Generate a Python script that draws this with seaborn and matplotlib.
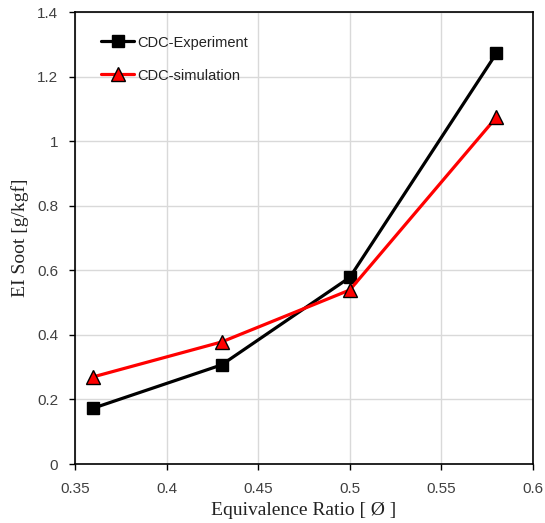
import matplotlib
matplotlib.use("Agg")
import matplotlib.pyplot as plt
import seaborn as sns
import pandas as pd

phi = [0.36, 0.43, 0.50, 0.58]
experiment = [0.173, 0.307, 0.578, 1.272]
simulation = [0.270, 0.378, 0.539, 1.074]
series_names = ["CDC-Experiment", "CDC-simulation"]
x_ticks = [0.35, 0.4, 0.45, 0.5, 0.55, 0.6]
x_tick_labels = ["0.35", "0.4", "0.45", "0.5", "0.55", "0.6"]
y_ticks = [0, 0.2, 0.4, 0.6, 0.8, 1.0, 1.2, 1.4]
y_tick_labels = ["0", "0.2", "0.4", "0.6", "0.8", "1", "1.2", "1.4"]

df_exp = pd.DataFrame({"phi": phi, "ei": experiment, "series": series_names[0]})
df_sim = pd.DataFrame({"phi": phi, "ei": simulation, "series": series_names[1]})

sns.set_theme(style="white")
plt.rcParams['font.family'] = ['Liberation Sans', 'DejaVu Sans']

fig = plt.figure(figsize=(5.45, 5.23), dpi=100)
ax = fig.add_axes([0.1376, 0.1128, 0.8404, 0.8642])

sns.lineplot(data=df_exp, x="phi", y="ei", label=series_names[0], color="black",
             marker="s", linewidth=2.3, markersize=9,
             markeredgecolor="black", markeredgewidth=1.0, ax=ax)
sns.lineplot(data=df_sim, x="phi", y="ei", label=series_names[1], color="#ff0000",
             marker="^", linewidth=2.3, markersize=10.5,
             markeredgecolor="black", markeredgewidth=1.0, ax=ax)

ax.set_xlim(0.35, 0.6)
ax.set_ylim(0, 1.4)
ax.set_xticks(x_ticks)
ax.set_xticklabels(x_tick_labels)
ax.set_yticks(y_ticks)
ax.set_yticklabels(y_tick_labels)
ax.grid(True, color="#d9d9d9", linewidth=1.0)
ax.set_axisbelow(True)
for s in ax.spines.values():
    s.set_visible(True)
    s.set_color("black")
    s.set_linewidth(1.2)
ax.tick_params(axis="both", direction="out", length=4, width=1, color="black",
               labelsize=11, labelcolor="#404040", bottom=True, left=True)
ax.tick_params(axis="x", pad=9)
ax.tick_params(axis="y", pad=8)

ax.set_xlabel("Equivalence Ratio [ Ø ]", fontfamily="Liberation Serif", fontsize=14,
              color="#222222", labelpad=4)
ax.set_ylabel("EI Soot [g/kgf]", fontfamily="Liberation Serif", fontsize=14,
              color="#222222", labelpad=6)

leg = ax.legend(loc="upper left", frameon=False, fontsize=10.5, labelspacing=1.3,
                handlelength=2.3, handletextpad=0.2, bbox_to_anchor=(0.028, 0.977))
for t in leg.get_texts():
    t.set_color("#222222")

fig.savefig("out.png", dpi=100)
